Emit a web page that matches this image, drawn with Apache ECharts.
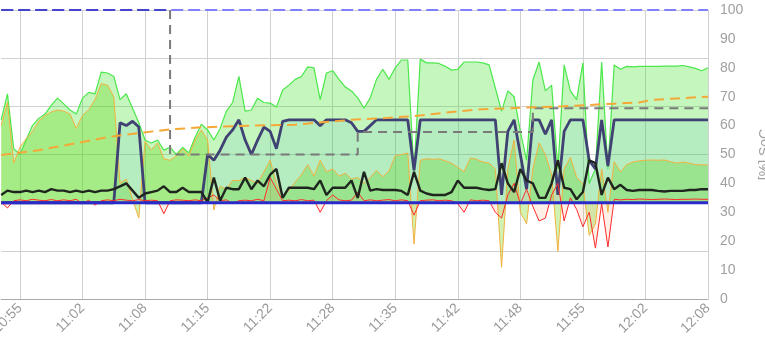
<!DOCTYPE html>
<html><head><meta charset="utf-8">
<script src="https://cdn.jsdelivr.net/npm/echarts@6/dist/echarts.min.js"></script>
<style>html,body{margin:0;padding:0;background:#fff}#c{width:765px;height:339px}</style>
</head><body><div id="c"></div>
<script>
// sampling: one value every 40 s, first sample at 10:53:20
const startTime = '10:53:20';
const stepSeconds = 40;
const sampleCount = 114;
const tickLabels = ['10:55','11:02','11:08','11:15','11:22','11:28','11:35','11:42','11:48','11:55','12:02','12:08'];
const firstTickIndex = 3, tickEvery = 10;

const green = [62,71,52,50,55,60,62.5,64,67,69.5,
  67.5,65.4,64,69.5,71.5,71,78.5,78.2,77,69,
  71,66,61,55,54,55,51.5,52.5,50,52.5,
  50.5,56,60.5,58.5,55,59,65,68,77,65,
  65.4,69.5,68,67.8,66.4,72.3,74,76,77,80.3,
  80,69,78.2,79,76,73.4,72,69.6,66,69.6,
  76,79.5,76,80,82.7,82.7,44,83,81.7,81.7,
  81.5,80.5,79.2,79.5,82,82,82,81.7,81,73,
  65,72,70,58,48,75.8,82,72,74,45,
  81,72,69,81.7,40,45,82,45,81,79.5,
  80.5,80.3,80.5,80.5,80.5,80.5,80.6,80.6,80.6,80.8,
  80.3,79.8,79,80];
const orange = [60,68,47,52.6,55.5,58,61.5,63.5,64.7,65.4,
  65,64,59,63.5,65.5,69,74.5,74,70,40,
  41.5,34.5,28,54.5,51.6,54,48.5,48,49.5,52,
  49.5,55,58.5,55,30.8,39,38,41,41,42,
  41,40,44,48,40,35.5,37.5,40.5,43,46.5,
  42.5,48,44,45,42.5,43.5,41.5,42,40,42,
  44.5,42.3,44.3,49.5,50,50.5,19,48,48.5,48.3,
  48.5,47.8,47,45.5,44,48.8,48.3,47.4,47,45,
  11,45,55,30,26,45,54,50,43,16.5,
  45,49,42,40,22,26,45,30,47.5,44,
  46.5,47.4,47.8,48,48.1,48,48.1,47.5,47,47.4,
  47,46.5,46.4,46.4];
const navy = [33.3,33.3,33.3,33.3,33.3,33.3,33.3,33.3,33.3,33.3,
  33.3,33.3,33.3,33.3,33.3,33.3,33.3,33.3,33.3,61,
  60,61.5,59.5,33.3,33.3,33.3,33.3,33.3,33.3,33.3,
  33.3,33.3,33.3,50,48,51.5,56,58.5,62,55,
  50,55,59.5,58,52,61.5,62,62,62,62,
  62,60,62,62,62,62,61,58,58,60,
  62,62,62,62,62,62,44.5,62,62,62,
  62,62,62,62,62,62,62,62,62,62,
  36,58,62,50,38,62,62,57,62,36,
  58,62,62,62,48,45,62,46,62,62,
  62,62,62,62,62,62,62,62,62,62,
  62,62,62,62];
const black = [36,37.5,37,37,37.5,37,37.5,37,38,37.5,
  37.5,37,37.5,37,37.5,37,37.5,37.5,38,39,
  40,37.5,35,36.5,37,37.5,39,37,37,38.5,
  37,37,37,33.5,42,34,38.5,38,38,42,
  38,41,39,43,45,35,38.5,38.5,38.5,38.5,
  38,41,36,38.5,38.5,38.5,41,35,44,37.5,
  38,37.7,37.7,37.7,37.4,36,44,37.5,36.5,36,
  36,36,37,41,38.5,38.5,38.5,38,37.7,38,
  47,40,37,45,41,40,35,35,40,48,
  38.5,38,34.5,37,48,47,36,42,38,39.5,
  37.7,37.4,37.7,37.7,37.7,37.4,37.2,37.4,37.4,37.4,
  37.7,37.7,38,38];
const red = [33.5,31.5,34,34.3,34,34.5,34.2,34,34.4,34,
  34.3,34,34.5,33,34.2,32.5,34,34.3,34,34.5,
  34.2,34,34.4,34,34.2,34,29.5,34,34.3,34.2,
  34,34.3,34,35,36,34,34.3,33,34,34.2,
  34,34.5,34,42,38,34,34.2,34,34.4,34,
  34.2,30,34,36,34.3,34,34.2,37,34,34.3,
  34,34.2,34.4,34,34.3,34,29,34,34.2,34.3,
  34,34.2,34,33,30,34.3,34,34.2,34,30,
  28,36,40,33,38,32,27,28,36,40,
  27,35,31,25,30,17.6,33,18,34.5,34.3,
  34.5,34.4,34.6,34.5,34.4,34.5,34.6,34.5,34.4,34.5,
  34.5,34.6,34.5,34.5];
// sparse series: [sample index, value]
const trend = [[0,49.8],[6,51.5],[13,54.3],[17,56],[22,57.4],[27,58.7],[32,59.4],[40,60],[47,60.3],[50,60.9],[56,62],[62,62.7],[66,63.3],[72,64.7],[77,65.7],[81,66],[90,66.7],[98,67.6],[102,68],[104,68.9],[108,69.4],[113,70]];
const setpoint = [[27,100],[27,50],[57,50],[57,57.8],[85,57.8],[85,66],[113,66]];
const upperLimit = [[0,100],[113,100]];
const upperLimitEarly = [[0,100],[27,100]];
const lowerLimit = [[0,33.33],[113,33.33]];

function fmt(sec){const h=Math.floor(sec/3600)%24,m=Math.floor(sec/60)%60;return String(h).padStart(2,'0')+':'+String(m).padStart(2,'0');}
const p = startTime.split(':').map(Number);
const t0 = p[0]*3600+p[1]*60+p[2];
const cats = []; for(let i=0;i<sampleCount;i++) cats.push(fmt(t0+i*stepSeconds));
const isTick = i => i>=firstTickIndex && (i-firstTickIndex)%tickEvery===0;

const chart = echarts.init(document.getElementById('c'), null, {renderer:'canvas'});
const ORIGIN = 33.33;
chart.setOption({
  animation:false,
  textStyle:{fontFamily:'Liberation Sans, Arial, sans-serif'},
  grid:{left:1.2,right:57,top:10,bottom:40,containLabel:false,outerBoundsMode:'none'},
  xAxis:{type:'category',data:cats,boundaryGap:false,
    axisLine:{lineStyle:{color:'#aaa'}},
    axisTick:{show:false},
    splitLine:{show:true,interval:(i)=>isTick(i),lineStyle:{color:'#d0d0d0'}},
    axisLabel:{interval:(i)=>isTick(i),rotate:45,color:'#999',fontSize:14,margin:7,
      formatter:(v,i)=>tickLabels[(i-firstTickIndex)/tickEvery]}},
  yAxis:[
    {type:'value',min:0,max:6,interval:1,axisLabel:{show:false},axisLine:{show:false},axisTick:{show:false},
      splitLine:{lineStyle:{color:'#d0d0d0'}}},
    {type:'value',position:'right',min:0,max:100,interval:10,splitLine:{show:false},
      axisLine:{show:false},axisTick:{show:false},
      axisLabel:{color:'#a0a0a0',fontSize:14,margin:12},
      name:'[%] SoC',nameLocation:'middle',nameGap:50,nameRotate:90,nameTextStyle:{color:'#a0a0a0',fontSize:14}}
  ],
  series:[
    {type:'line',yAxisIndex:1,data:green,symbol:'none',lineStyle:{color:'#4be84b',width:1.2},
      areaStyle:{color:'rgba(55,225,35,0.42)',origin:ORIGIN}},
    {type:'line',yAxisIndex:1,data:orange,symbol:'none',lineStyle:{color:'#f2b13e',width:1},
      areaStyle:{color:'rgba(95,215,0,0.42)',origin:ORIGIN}},
    {type:'line',yAxisIndex:1,data:navy,symbol:'none',lineStyle:{color:'#3f4272',width:2.8},
      areaStyle:{color:'rgba(70,160,210,0.17)',origin:ORIGIN}},
    {type:'line',yAxisIndex:1,data:red,symbol:'none',lineStyle:{color:'#ff2a2a',width:1},
      areaStyle:{color:'rgba(255,120,40,0.16)',origin:ORIGIN}},
    {type:'line',yAxisIndex:1,data:black,symbol:'none',lineStyle:{color:'#1f261f',width:2.4}},
    {type:'line',yAxisIndex:1,data:lowerLimit,symbol:'none',lineStyle:{color:'#2a2ac8',width:3}},
    {type:'line',yAxisIndex:1,data:setpoint,symbol:'none',lineStyle:{color:'#7a7a7a',width:2,type:[9,6]}},
    {type:'line',yAxisIndex:1,data:trend,symbol:'none',lineStyle:{color:'#f5a838',width:2,type:[10,6]}},
    {type:'line',yAxisIndex:1,data:upperLimit,symbol:'none',lineStyle:{color:'#8080ff',width:2.2,type:[12,5]}},
    {type:'line',yAxisIndex:1,data:upperLimitEarly,symbol:'none',lineStyle:{color:'#4444cf',width:2.2,type:[12,5]}}
  ]
});
</script></body></html>
